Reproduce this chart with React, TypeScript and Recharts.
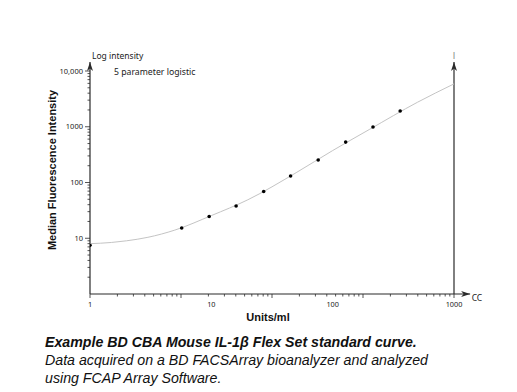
import React from "react";
import {
  ComposedChart,
  Line,
  ReferenceDot,
  ReferenceLine,
  Scatter,
  XAxis,
  YAxis,
} from "recharts";

// Standards (Units/ml vs median fluorescence).
const standardConc = [1, 5.7, 9.6, 16, 27, 45, 76, 128, 215, 360];
const standardMfi = [7.5, 15.3, 24.6, 38, 69, 131, 254, 530, 988, 1920];

// 5PL fit, sampled along the drawn grey curve.
const fitConc = [1, 1.5, 2, 3, 5, 10, 20, 50, 100, 200, 500, 1000];
const fitMfi = [8.0, 8.4, 9.0, 10.4, 14, 25.5, 49, 150, 374, 890, 2750, 5875];

const xTickLabels = [1, 10, 100, 1000];
const yTickValues = [10, 100, 1000, 10000];
const yTickLabels = ["10", "100", "1000", "10,000"];

const AXIS_TOP = 14500; // where the vertical arrows end
const AXIS_RIGHT = 1358; // where the x-axis arrow ends

const standards = standardConc.map((x, i) => ({ x, y: standardMfi[i] }));
const fit = fitConc.map((x, i) => ({ x, y: fitMfi[i] }));

// y minor ticks: 2..9 in every decade
const yMinor: number[] = [];
[1, 10, 100, 1000].forEach((d) => {
  for (let m = 2; m <= 9; m++) yMinor.push(m * d);
});
const yTicks = [...yMinor, ...yTickValues].sort((a, b) => a - b);

// the x-axis tick marks in the source sit on a 0.75-decade log pattern,
// independent of the labels
const xMarks: { v: number; major: boolean }[] = [];
for (let k = 0; k < 4; k++) {
  for (let m = 1; m <= 9; m++) {
    xMarks.push({ v: Math.pow(10, 0.75 * (k + Math.log10(m))), major: m === 1 });
  }
}
xMarks.push({ v: 1000, major: true });
const xTicks = Array.from(
  new Set([...xMarks.map((t) => t.v), ...xTickLabels])
).sort((a, b) => a - b);

const TICK_FONT = "'Noto Sans', sans-serif";
const AXIS_COLOR = "#2a2a2a";

function YTick(props: { x?: number; y?: number; payload?: { value?: number } }) {
  const { x = 0, y = 0, payload } = props;
  const v = payload?.value ?? 0;
  const idx = yTickValues.indexOf(v);
  const major = idx >= 0;
  const len = major ? 5 : 2.5;
  return (
    <g>
      <line x1={x} x2={x - len} y1={y} y2={y} stroke={AXIS_COLOR} strokeWidth={0.8} />
      {major && (
        <text
          x={x - 7}
          y={y}
          dy="0.35em"
          textAnchor="end"
          fontSize={7.5}
          fontFamily={TICK_FONT}
          fill="#222"
        >
          {yTickLabels[idx]}
        </text>
      )}
    </g>
  );
}

function XTick(props: { x?: number; y?: number; payload?: { value?: number } }) {
  const { x = 0, y = 0, payload } = props;
  const v = payload?.value ?? 0;
  const mark = xMarks.find((t) => Math.abs(t.v - v) < 1e-6);
  const isLabel = xTickLabels.includes(v);
  return (
    <g>
      {mark && (
        <line
          x1={x}
          x2={x}
          y1={y}
          y2={y + (mark.major ? 4 : 2.5)}
          stroke={AXIS_COLOR}
          strokeWidth={0.8}
        />
      )}
      {isLabel && (
        <text
          x={x}
          y={y + 13}
          textAnchor="middle"
          fontSize={7.3}
          fontFamily={TICK_FONT}
          fill="#222"
        >
          {v}
        </text>
      )}
    </g>
  );
}

function UpArrow(label: string, color: string, extra?: string) {
  return function Arrow(p: { cx?: number; cy?: number }) {
    const { cx = 0, cy = 0 } = p;
    const centred = label.length === 1;
    return (
      <g>
        <path
          d={`M${cx},${cy} L${cx - 3},${cy + 9} L${cx},${cy + 6.5} L${cx + 3},${cy + 9} Z`}
          fill={AXIS_COLOR}
        />
        <text
          x={centred ? cx : cx + 2}
          y={cy - 3}
          textAnchor={centred ? "middle" : "start"}
          fontSize={8.5}
          fontFamily="'DejaVu Sans', sans-serif"
          style={{ fontFamily: centred ? "'DejaVu Sans', sans-serif" : TICK_FONT }}
          fill={color}
        >
          {label}
        </text>
        {extra && (
          <text x={cx + 24} y={cy + 12.7} fontSize={8.7} fontFamily={TICK_FONT} fill="#222">
            {extra}
          </text>
        )}
      </g>
    );
  };
}

function RightArrow(p: { cx?: number; cy?: number }) {
  const { cx = 0, cy = 0 } = p;
  return (
    <g>
      <path
        d={`M${cx},${cy} L${cx - 9},${cy - 3} L${cx - 6.5},${cy} L${cx - 9},${cy + 3} Z`}
        fill={AXIS_COLOR}
      />
      <text x={cx + 1.5} y={cy + 7} fontSize={8.5} fontFamily={TICK_FONT} fill="#222">
        CC
      </text>
    </g>
  );
}

function Dot(p: { cx?: number; cy?: number }) {
  return <circle cx={p.cx} cy={p.cy} r={1.8} fill="#000" />;
}

export default function App() {
  return (
    <div
      style={{
        position: "absolute",
        left: 0,
        top: 0,
        width: 517,
        height: 392,
        background: "#fff",
        fontFamily: "'Liberation Sans', Arial, sans-serif",
      }}
    >
      <ComposedChart
        width={517}
        height={320}
        margin={{ top: 71, right: 63, left: 40, bottom: 6 }}
      >
        <XAxis
          dataKey="x"
          type="number"
          scale="log"
          domain={[1, 1000]}
          allowDataOverflow
          ticks={xTicks}
          interval={0}
          tickSize={0}
          tickMargin={0}
          axisLine={false}
          tickLine={false}
          tick={<XTick />}
          height={20}
        />
        <YAxis
          dataKey="y"
          type="number"
          scale="log"
          domain={[1, 10000]}
          allowDataOverflow
          ticks={yTicks}
          interval={0}
          tickSize={0}
          tickMargin={0}
          axisLine={false}
          tickLine={false}
          tick={<YTick />}
          width={50}
        />
        <ReferenceLine
          segment={[{ x: 1, y: 1 }, { x: 1, y: AXIS_TOP }]}
          stroke={AXIS_COLOR}
          strokeWidth={1.2}
          ifOverflow="visible"
        />
        <ReferenceLine
          segment={[{ x: 1000, y: 1 }, { x: 1000, y: AXIS_TOP }]}
          stroke={AXIS_COLOR}
          strokeWidth={1.2}
          ifOverflow="visible"
        />
        <ReferenceLine
          segment={[{ x: 1, y: 1 }, { x: AXIS_RIGHT, y: 1 }]}
          stroke={AXIS_COLOR}
          strokeWidth={1.2}
          ifOverflow="visible"
        />
        <Line
          data={fit}
          dataKey="y"
          type="monotone"
          stroke="#c4c4c4"
          strokeWidth={1}
          dot={false}
          activeDot={false}
          isAnimationActive={false}
        />
        <Scatter data={standards} shape={<Dot />} isAnimationActive={false} />
        <ReferenceDot
          x={1}
          y={AXIS_TOP}
          ifOverflow="visible"
          shape={UpArrow("Log intensity", "#222", "5 parameter logistic")}
        />
        <ReferenceDot x={1000} y={AXIS_TOP} ifOverflow="visible" shape={UpArrow("I", "#888")} />
        <ReferenceDot x={AXIS_RIGHT} y={1} ifOverflow="visible" shape={<RightArrow />} />
      </ComposedChart>

      <div
        style={{
          position: "absolute",
          left: 168,
          top: 310,
          width: 200,
          textAlign: "center",
          fontSize: 11,
          fontWeight: 700,
          lineHeight: "14px",
          color: "#111",
        }}
      >
        Units/ml
      </div>
      <div
        style={{
          position: "absolute",
          left: 51.5 - 120,
          top: 170 - 7,
          width: 240,
          textAlign: "center",
          fontSize: 11,
          fontWeight: 700,
          lineHeight: "14px",
          color: "#111",
          transform: "rotate(-90deg)",
        }}
      >
        Median Fluorescence Intensity
      </div>
      <div
        style={{
          position: "absolute",
          left: 45,
          top: 332.5,
          fontSize: 14.2,
          lineHeight: "18px",
          fontStyle: "italic",
          color: "#111",
          whiteSpace: "nowrap",
        }}
      >
        <div style={{ fontWeight: 700 }}>
          Example BD CBA Mouse IL-1β Flex Set standard curve.
        </div>
        <div>Data acquired on a BD FACSArray bioanalyzer and analyzed</div>
        <div>using FCAP Array Software.</div>
      </div>
    </div>
  );
}
